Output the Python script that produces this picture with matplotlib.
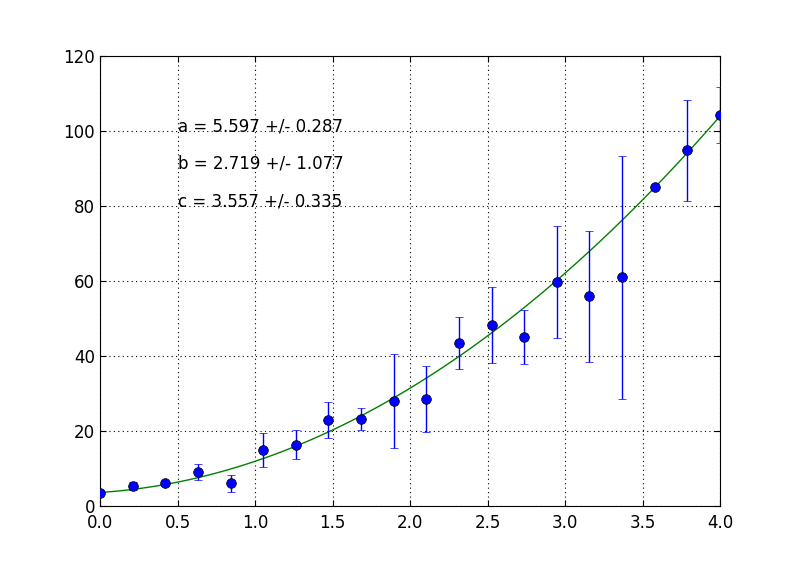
import numpy as np
import matplotlib
matplotlib.use('Agg')
import matplotlib.pyplot as plt

x = np.linspace(0, 4, 20)
y = [3.4, 5.3, 6.05, 9.0, 6.05, 14.85, 16.3, 22.85, 23.2, 27.9,
     28.45, 43.4, 48.3, 45.0, 59.7, 55.9, 61.0, 85.0, 94.9, 104.3]
yerr = [0.3, 1.0, 0.7, 2.1, 2.3, 4.6, 3.9, 4.8, 2.85, 12.5,
        8.75, 6.9, 10.2, 7.2, 14.9, 17.4, 32.4, 0.3, 13.5, 7.4]

# Fit parameters shown on the chart
a, b, c = 5.597, 2.719, 3.557
a_err, b_err, c_err = 0.287, 1.077, 0.335

plt.rcParams['font.size'] = 12
plt.rcParams['xtick.direction'] = 'in'
plt.rcParams['ytick.direction'] = 'in'
plt.rcParams['xtick.top'] = True
plt.rcParams['ytick.right'] = True

fig = plt.figure(figsize=(8, 5.62), dpi=100)
ax = fig.add_axes([0.125, 0.1, 0.775, 0.8])

xf = np.linspace(0, 4, 100)
ax.plot(xf, a * xf**2 + b * xf + c, color=(0, 0.5, 0), lw=1.0, zorder=2)
ax.errorbar(x, y, yerr=yerr, fmt='o', color='b', ecolor='b', mec='k', mew=0.5,
            ms=7, capsize=3, elinewidth=1.0, zorder=3)

ax.text(0.5, 100, 'a = %.3f +/- %.3f' % (a, a_err))
ax.text(0.5, 90, 'b = %.3f +/- %.3f' % (b, b_err))
ax.text(0.5, 80, 'c = %.3f +/- %.3f' % (c, c_err))

ax.set_xlim(0, 4)
ax.set_ylim(0, 120)
ax.set_xticks(np.arange(0, 4.01, 0.5))
ax.set_yticks(np.arange(0, 121, 20))
ax.grid(True, color='k', linestyle=(0, (1, 3)), linewidth=0.8)
ax.tick_params(length=4, width=0.8)
ax.tick_params(axis='x', pad=6)

fig.savefig('out.png', dpi=100)
